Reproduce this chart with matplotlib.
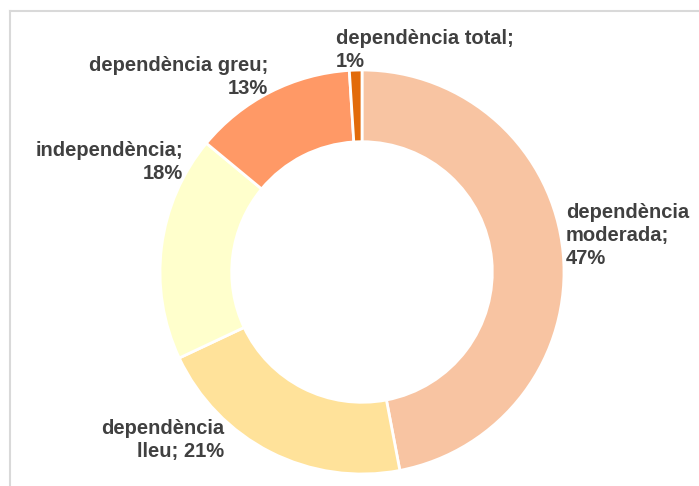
import matplotlib
matplotlib.use("Agg")
import matplotlib.pyplot as plt
from matplotlib.lines import Line2D

# Degree of dependency, share of people (%)
categories = ["dependència moderada", "dependència lleu", "independència",
              "dependència greu", "dependència total"]
values = [47, 21, 18, 13, 1]
colors = ["#F8C4A2", "#FFE29A", "#FFFFCC", "#FF9966", "#E26B0A"]

# how each label is wrapped on the chart
label_lines = ["dependència\nmoderada;\n{v}%", "dependència\nlleu; {v}%",
               "independència;\n{v}%", "dependència greu;\n{v}%",
               "dependència total;\n{v}%"]

W, H = 699, 486
fig = plt.figure(figsize=(W / 100, H / 100), dpi=100)
fig.patch.set_facecolor("white")

# donut: centre (362, 272) px, outer radius 202 px
cx, cy, r = 362, 272, 202
ax = fig.add_axes([(cx - r) / W, (H - cy - r) / H, 2 * r / W, 2 * r / H])
ax.pie(values, colors=colors, startangle=90, counterclock=False, radius=1.0,
       wedgeprops=dict(width=0.355, edgecolor="white", linewidth=2))
ax.set_xlim(-1, 1)
ax.set_ylim(-1, 1)
ax.set_aspect("equal")
ax.axis("off")

# chart frame (left and top edges visible)
fig.add_artist(Line2D([10 / W, 10 / W], [0, 1 - 11 / H], transform=fig.transFigure,
                      color="#D9D9D9", lw=1.5))
fig.add_artist(Line2D([10 / W, 1], [1 - 11 / H, 1 - 11 / H], transform=fig.transFigure,
                      color="#D9D9D9", lw=1.5))

# label anchors in pixels (x, top y, horizontal alignment)
anchors = [(566, 203, "left"), (224, 419, "right"), (183, 141, "right"),
           (268, 56, "right"), (336, 29, "left")]

for tmpl, v, (x, y, ha) in zip(label_lines, values, anchors):
    fig.text(x / W, 1 - y / H, tmpl.format(v=v), ha=ha, va="top",
             multialignment=ha, fontsize=14.5, fontweight="bold",
             color="#404040", family=["Liberation Sans", "DejaVu Sans"],
             linespacing=1.25)

fig.savefig("out.png", dpi=100, facecolor="white")
